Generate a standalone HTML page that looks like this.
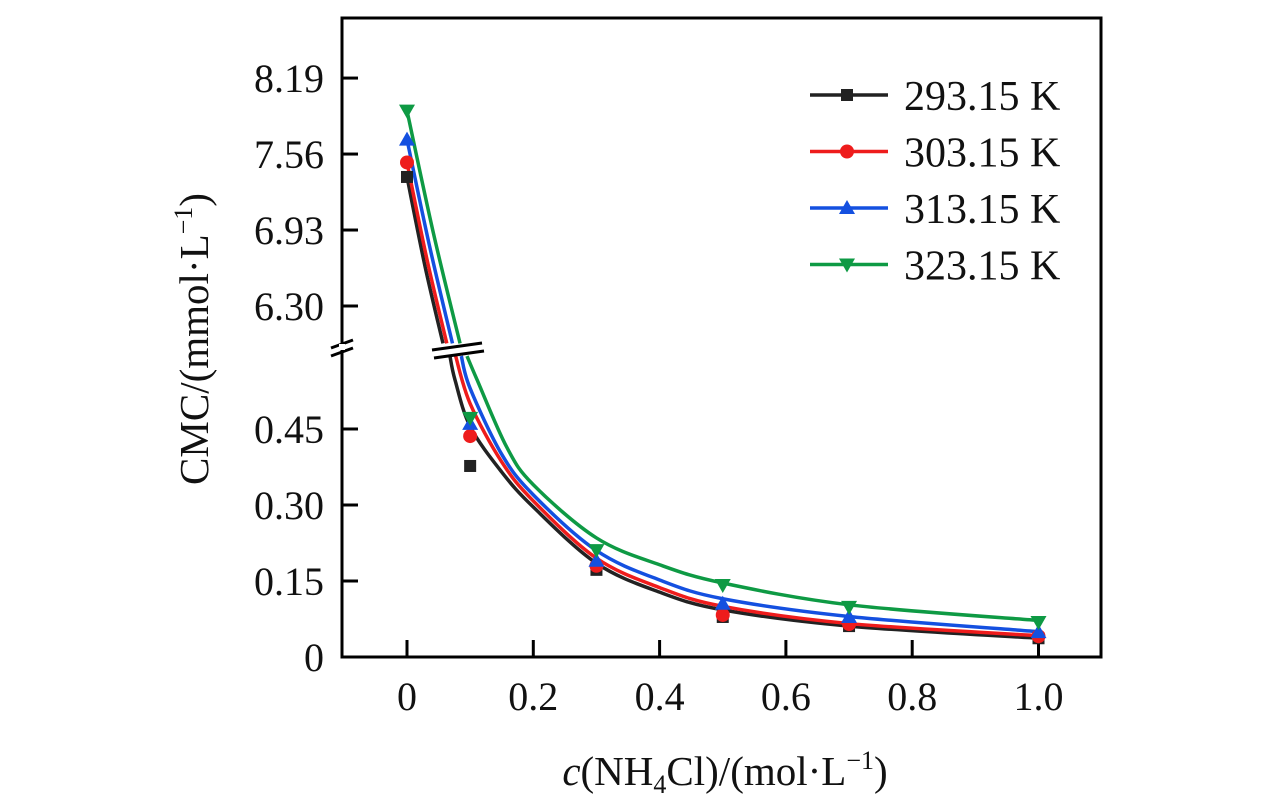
<!DOCTYPE html>
<html><head><meta charset="utf-8"><style>
html,body{margin:0;padding:0;background:#fff}
svg text{font-family:"Liberation Serif",serif;fill:#111}
</style></head><body>
<svg id="chart" width="1276" height="805" viewBox="0 0 1276 805" xmlns="http://www.w3.org/2000/svg">
<rect x="342" y="18" width="759" height="639" fill="none" stroke="#000" stroke-width="3"/>
<g id="ticks"></g>
<g id="curves"></g>
<g id="marks"></g>
<g id="breaks"></g>
<text x="208" y="339" font-size="41" text-anchor="middle" transform="rotate(-90 208 339)">CMC/(mmol·L<tspan font-size="26" dy="-16">−1</tspan><tspan dy="16">)</tspan></text>
<text x="725" y="785" font-size="41" text-anchor="middle"><tspan font-style="italic">c</tspan>(NH<tspan font-size="26" dy="8">4</tspan><tspan dy="-8">Cl)/(mol·L</tspan><tspan font-size="26" dy="-16">−1</tspan><tspan dy="16">)</tspan></text>
<g id="legend"></g>
</svg>
<script>
const xData=[0,0.1,0.3,0.5,0.7,1.0];
const seriesNames=["293.15 K","303.15 K","313.15 K","323.15 K"];
const s293=[7.37,0.377,0.172,0.079,0.061,0.037];
const s303=[7.49,0.436,0.180,0.083,0.065,0.041];
const s313=[7.68,0.460,0.190,0.105,0.079,0.049];
const s323=[7.92,0.472,0.211,0.142,0.099,0.069];
// fitted curves: upper segment (above axis break) and lower segment
const fitUpX293=[0,0.0285,0.057], fitUp293=[7.37,6.63,5.99];
const fitUpX303=[0,0.0315,0.063], fitUp303=[7.49,6.69,5.99];
const fitUpX313=[0,0.036,0.072], fitUp313=[7.68,6.79,5.99];
const fitUpX323=[0,0.042,0.084], fitUp323=[7.92,6.90,5.99];
const fitLoX293=[0.068,0.076,0.1,0.15,0.2,0.3,0.4,0.5,0.7,1.0], fitLo293=[0.594,0.547,0.455,0.365,0.296,0.185,0.128,0.093,0.061,0.037];
const fitLoX303=[0.077,0.1,0.15,0.2,0.3,0.4,0.5,0.7,1.0], fitLo303=[0.594,0.50,0.385,0.308,0.195,0.137,0.100,0.066,0.042];
const fitLoX313=[0.086,0.1,0.15,0.2,0.3,0.4,0.5,0.7,1.0], fitLo313=[0.594,0.53,0.40,0.320,0.210,0.152,0.115,0.080,0.050];
const fitLoX323=[0.095,0.111,0.158,0.2,0.3,0.4,0.5,0.7,1.0], fitLo323=[0.594,0.547,0.414,0.340,0.235,0.182,0.146,0.103,0.072];
const xTicks=[0,0.2,0.4,0.6,0.8,1.0];
const xTickLabels=["0","0.2","0.4","0.6","0.8","1.0"];
const yLowTicks=[0,0.15,0.30,0.45];
const yLowLabels=["0","0.15","0.30","0.45"];
const yHighTicks=[6.30,6.93,7.56,8.19];
const yHighLabels=["6.30","6.93","7.56","8.19"];
const colors=["#222222","#ee1c1c","#1450e0","#0e9a44"];
const NS="http://www.w3.org/2000/svg";
function X(c){return 407+c*631.5;}
function Y(v){
  if(v<=0.62) return 657-v*506.7;
  return 306-(v-6.30)*120.6;
}
function mk(tag,attrs,parent){const e=document.createElementNS(NS,tag);for(const k in attrs)e.setAttribute(k,attrs[k]);parent.appendChild(e);return e;}
const ticks=document.getElementById('ticks');
xTicks.forEach((t,i)=>{
  const l=mk('line',{x1:X(t),x2:X(t),y1:657,y2:640,stroke:'#000','stroke-width':3},ticks);
  
  
  const tx=mk('text',{x:X(t),y:710,'font-size':40,'text-anchor':'middle'},ticks);tx.textContent=xTickLabels[i];
  
  
});
yLowTicks.concat(yHighTicks).forEach((t,i)=>{
  const lab=yLowLabels.concat(yHighLabels)[i];
  const y=Y(t);
  const l=mk('line',{x1:342,x2:358,y1:y,y2:y,stroke:'#000','stroke-width':3},ticks);
  
  
  const tx=mk('text',{x:324,y:y+14,'font-size':40,'text-anchor':'end'},ticks);tx.textContent=lab;
  
  
});
function spline(pts){
  let d=`M${pts[0][0]},${pts[0][1]}`;
  for(let i=0;i<pts.length-1;i++){
    const p0=pts[Math.max(0,i-1)],p1=pts[i],p2=pts[i+1],p3=pts[Math.min(pts.length-1,i+2)];
    const c1=[p1[0]+(p2[0]-p0[0])/6,p1[1]+(p2[1]-p0[1])/6];
    const c2=[p2[0]-(p3[0]-p1[0])/6,p2[1]-(p3[1]-p1[1])/6];
    d+=` C${c1[0]},${c1[1]} ${c2[0]},${c2[1]} ${p2[0]},${p2[1]}`;
  }
  return d;
}
const curves=document.getElementById('curves');
const ups=[[fitUpX293,fitUp293],[fitUpX303,fitUp303],[fitUpX313,fitUp313],[fitUpX323,fitUp323]];
const los=[[fitLoX293,fitLo293],[fitLoX303,fitLo303],[fitLoX313,fitLo313],[fitLoX323,fitLo323]];
[0,1,2,3].forEach(si=>{
  [ups[si],los[si]].forEach(([xs,vs],k)=>{
    const p=mk('path',{d:spline(xs.map((c,i)=>[X(c),Y(vs[i])])),fill:'none',stroke:colors[si],'stroke-width':3.5},curves);
    
    
  });
});
function marker(type,x,y,col,parent){
  let e;
  if(type===0) e=mk('rect',{x:x-6,y:y-6,width:12,height:12,fill:col},parent);
  else if(type===1) e=mk('circle',{cx:x,cy:y,r:7,fill:col},parent);
  else if(type===2) e=mk('polygon',{points:`${x},${y-8} ${x-8},${y+6} ${x+8},${y+6}`,fill:col},parent);
  else e=mk('polygon',{points:`${x},${y+8} ${x-8},${y-6} ${x+8},${y-6}`,fill:col},parent);
  return e;
}
const marks=document.getElementById('marks');
[s293,s303,s313,s323].forEach((s,si)=>{
  s.forEach((v,i)=>{
    const e=marker(si,X(xData[i]),Y(v),colors[si],marks);
    
    
  });
});
const br=document.getElementById('breaks');
[[432,350,482,343],[434,358,484,351],[331,356,353,348],[331,348,353,340]].forEach(b=>{
  const l=mk('line',{x1:b[0],y1:b[1],x2:b[2],y2:b[3],stroke:'#000','stroke-width':3},br);
  
  
});
const ag=mk('rect',{x:339,y:344,width:6,height:6,fill:'#fff'},br);


const leg=document.getElementById('legend');
seriesNames.forEach((n,i)=>{
  const y=95+i*56.5;
  const l=mk('line',{x1:810,x2:888,y1:y,y2:y,stroke:colors[i],'stroke-width':3.5},leg);
  
  
  const m=marker(i,847,y,colors[i],leg);
  
  
  const t=mk('text',{x:904,y:y+15,'font-size':42},leg);t.textContent=n;
  
  
});
</script>
</body></html>
